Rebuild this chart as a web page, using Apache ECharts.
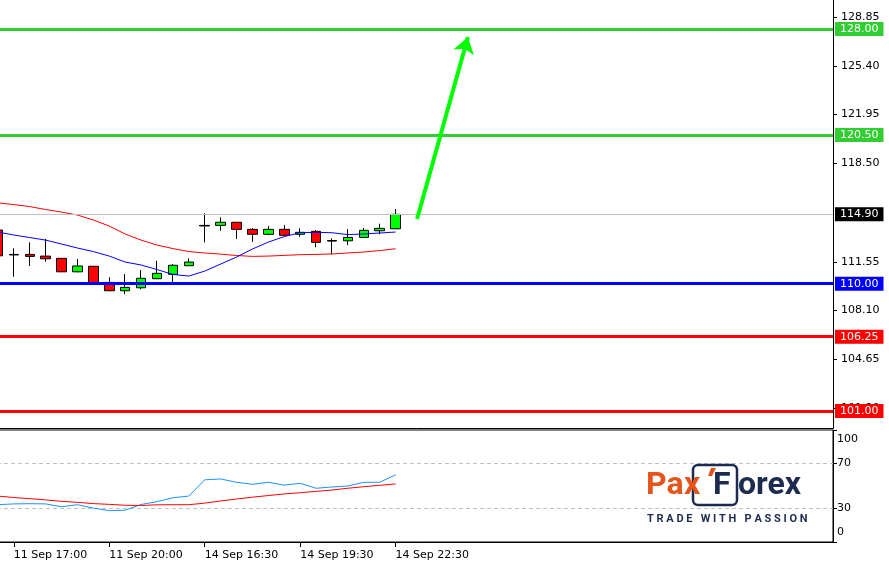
<!DOCTYPE html>
<html><head><meta charset="utf-8">
<script src="https://cdn.jsdelivr.net/npm/echarts@6/dist/echarts.min.js"></script>
<style>html,body{margin:0;padding:0;background:#fff}#c{width:889px;height:564px}</style>
</head><body><div id="c"></div>
<script>
// ---- data ----
const categories = ['11 Sep 16:30','11 Sep 17:00','11 Sep 17:30','11 Sep 18:00','11 Sep 18:30','11 Sep 19:00','11 Sep 19:30','11 Sep 20:00','11 Sep 20:30','11 Sep 21:00','11 Sep 21:30','11 Sep 22:00','11 Sep 22:30',
  '14 Sep 16:30','14 Sep 17:00','14 Sep 17:30','14 Sep 18:00','14 Sep 18:30','14 Sep 19:00','14 Sep 19:30','14 Sep 20:00','14 Sep 20:30','14 Sep 21:00','14 Sep 21:30','14 Sep 22:00','14 Sep 22:30'];
const tickLabels = ['11 Sep 17:00','11 Sep 20:00','14 Sep 16:30','14 Sep 19:30','14 Sep 22:30'];
const opens  = [113.79,112.07,112.07,111.95,111.79,110.84,111.23,110.09,109.50,109.71,110.35,110.66,111.27,114.12,114.12,114.34,113.84,113.49,113.84,113.49,113.70,113.05,113.03,113.27,113.74,113.88];
const closes = [111.97,112.03,111.93,111.76,110.84,111.25,110.07,109.50,109.74,110.38,110.73,111.30,111.53,114.08,114.34,113.84,113.49,113.84,113.42,113.63,112.92,113.01,113.27,113.77,113.91,114.90];
const lows   = [111.90,110.49,111.25,111.55,110.82,110.80,110.05,109.48,109.27,109.60,110.33,110.02,111.25,112.92,113.74,113.16,112.96,113.42,113.40,113.32,112.57,112.07,112.73,113.25,113.49,113.86];
const highs  = [113.85,112.50,112.92,113.16,111.80,111.74,111.25,110.45,110.68,110.96,111.62,111.39,111.79,114.97,114.69,114.36,113.93,114.07,114.14,113.91,113.79,113.20,113.86,113.93,114.24,115.28];
const maSlow = [115.71,115.59,115.45,115.24,115.06,114.85,114.50,114.07,113.51,113.08,112.73,112.48,112.27,112.17,112.09,111.99,111.93,111.95,112.00,112.05,112.07,112.10,112.17,112.24,112.34,112.47];
const maFast = [113.65,113.44,113.26,113.08,112.80,112.52,112.27,111.95,111.53,111.32,111.00,110.65,110.54,110.89,111.39,111.88,112.45,112.94,113.33,113.60,113.63,113.60,113.47,113.51,113.58,113.65];
const oscFast = [33.3,34.0,34.2,34.0,31.5,33.3,30.3,28.0,28.4,33.5,36.0,39.5,41.0,55.5,56.3,53.3,51.5,53.3,50.8,52.4,48.0,49.1,50.0,53.3,53.3,60.0];
const oscSlow = [41.0,39.7,38.7,37.6,36.3,35.4,34.3,33.6,32.8,32.6,33.2,33.3,33.3,34.7,36.6,38.4,40.0,41.5,42.9,44.0,45.2,46.4,48.0,49.4,50.6,51.8];
const levelValues = [128.00, 120.50, 114.90, 110.00, 106.25, 101.00];
const priceTicks = [101.20, 104.65, 108.10, 111.55, 118.50, 121.95, 125.40, 128.85];
const oscTicks = [0, 30, 70, 100];
const oscLevels = [70, 30];
const arrowFrom = [26.35, 114.57];
const arrowTo = [29.55, 127.43];

// ---- styles ----
const FONT = 'DejaVu Sans';
const levelColors = ['#32CD32', '#32CD32', '#C0C0C0', '#0000FF', '#FF0000', '#FF0000'];
const levelBoxColors = ['#32CD32', '#32CD32', '#000000', '#0000FF', '#FF0000', '#FF0000'];
const levelWidths = [3, 3, 1, 3, 3, 3];

const N = 53;
const cats = categories.concat(Array.from({length: N - categories.length}, (_, k) => 'slot' + (k + categories.length)));
const candles = opens.map((o, i) => [o, closes[i], lows[i], highs[i]]);
const showLbl = (idx, val) => tickLabels.indexOf(val) >= 0;

const chart = echarts.init(document.getElementById('c'), null, {renderer: 'canvas'});
chart.setOption({
  animation: false,
  backgroundColor: '#fff',
  textStyle: {fontFamily: FONT},
  grid: [
    {left: -10, right: 56, top: 0, height: 428, outerBoundsMode: 'none', containLabel: false},
    {left: -10, right: 56, top: 430, height: 112, outerBoundsMode: 'none', containLabel: false,
     show: true, borderColor: '#000', borderWidth: 1, backgroundColor: 'transparent'}
  ],
  xAxis: [
    {type: 'category', gridIndex: 0, data: cats, boundaryGap: true,
     axisLine: {show: true, onZero: false, lineStyle: {color: '#000', width: 1}}, axisTick: {show: false}, axisLabel: {show: false}, splitLine: {show: false}},
    {type: 'value', gridIndex: 0, min: -0.5, max: N - 0.5, show: false, axisLine: {onZero: false}},
    {type: 'category', gridIndex: 1, data: cats, boundaryGap: true,
     axisLine: {show: true, onZero: false, lineStyle: {color: '#000', width: 1}},
     axisTick: {show: true, interval: showLbl, alignWithLabel: true, length: 5, lineStyle: {color: '#000'}},
     axisLabel: {show: true, interval: showLbl, align: 'left', margin: 8, color: '#000', fontFamily: FONT, fontSize: 11},
     splitLine: {show: false}}
  ],
  yAxis: [
    {type: 'value', gridIndex: 0, position: 'right', min: 99.80, max: 130.05,
     axisLine: {show: true, onZero: false, lineStyle: {color: '#000', width: 1}},
     axisTick: {show: true, length: 4, customValues: priceTicks, lineStyle: {color: '#000'}},
     axisLabel: {show: true, customValues: priceTicks, formatter: v => Number(v).toFixed(2), margin: 8, color: '#000', fontFamily: FONT, fontSize: 11},
     splitLine: {show: false}},
    {type: 'value', gridIndex: 1, position: 'right', min: 0, max: 100,
     axisLine: {show: true, onZero: false, lineStyle: {color: '#000', width: 1}},
     axisTick: {show: true, length: 4, customValues: oscTicks, lineStyle: {color: '#000'}},
     axisLabel: {show: true, customValues: oscTicks, lineHeight: 19,
       formatter: v => (v >= 100 ? '\n100' : (v <= 0 ? '0\n' : String(Math.round(v)))),
       margin: 4, color: '#000', fontFamily: FONT, fontSize: 11},
     splitLine: {show: false}}
  ],
  series: [
    {type: 'candlestick', xAxisIndex: 0, yAxisIndex: 0, data: candles, barWidth: 10,
     itemStyle: {color: '#00FF00', color0: '#FF0000', borderColor: '#000', borderColor0: '#000', borderColorDoji: '#000', borderWidth: 1},
     markLine: {silent: true, symbol: 'none', z: 5,
       data: levelValues.map((v, i) => ({
         yAxis: v,
         lineStyle: {color: levelColors[i], width: levelWidths[i], type: 'solid'},
         label: {show: true, position: 'end', distance: 2, formatter: p => Number(p.value).toFixed(2),
           color: '#fff', backgroundColor: levelBoxColors[i], padding: [1, 5, 1, 5], lineHeight: 12,
           fontFamily: FONT, fontSize: 11}
       }))}},
    {type: 'line', xAxisIndex: 0, yAxisIndex: 0, data: maSlow, symbol: 'none', lineStyle: {color: '#FF0000', width: 1}, z: 3},
    {type: 'line', xAxisIndex: 0, yAxisIndex: 0, data: maFast, symbol: 'none', lineStyle: {color: '#0000FF', width: 1}, z: 3},
    {type: 'line', xAxisIndex: 1, yAxisIndex: 0, data: [arrowFrom, arrowTo], symbol: 'none', lineStyle: {width: 0, opacity: 0},
     markLine: {silent: true, symbol: ['none', 'arrow'], symbolSize: 16, z: 6,
       lineStyle: {color: '#00FF00', width: 4, type: 'solid'}, itemStyle: {color: '#00FF00'}, label: {show: false},
       data: [[{coord: arrowFrom}, {coord: arrowTo}]]}},
    {type: 'line', xAxisIndex: 2, yAxisIndex: 1, data: oscFast, symbol: 'none', lineStyle: {color: '#1E90FF', width: 1}, z: 3,
     markLine: {silent: true, symbol: 'none', z: 1, label: {show: false},
       lineStyle: {color: '#C0C0C0', width: 1, type: [4, 3]},
       data: oscLevels.map(v => ({yAxis: v}))}},
    {type: 'line', xAxisIndex: 2, yAxisIndex: 1, data: oscSlow, symbol: 'none', lineStyle: {color: '#FF0000', width: 1}, z: 3}
  ],
  graphic: [
    {type: 'rect', x: 693, y: 465, shape: {width: 44, height: 40, r: 5}, style: {fill: 'none', stroke: '#1C2B4F', lineWidth: 2.5}, z: 10},
    {type: 'text', x: 646, y: 486, z: 11, style: {text: 'Pa', fill: '#E5541B', fontSize: 32, fontWeight: 'bold', fontFamily: 'Roboto', verticalAlign: 'middle'}},
    {type: 'text', x: 684, y: 486, z: 11, style: {text: 'x', fill: '#E5541B', fontSize: 32, fontWeight: 'bold', fontFamily: 'Roboto', verticalAlign: 'middle'}},
    {type: 'polygon', z: 11, shape: {points: [[711, 468], [716, 468], [712, 476], [708, 476]]}, style: {fill: '#E5541B'}},
    {type: 'text', x: 713, y: 486, z: 11, style: {text: 'F', fill: '#1C2B4F', fontSize: 32, fontWeight: 'bold', fontFamily: 'Roboto', verticalAlign: 'middle'}},
    {type: 'text', x: 738, y: 486, z: 11, style: {text: 'orex', fill: '#1C2B4F', fontSize: 32, fontWeight: 'bold', fontFamily: 'Roboto', verticalAlign: 'middle'}},
    {type: 'text', x: 647, y: 519, z: 11, style: {text: 'T R A D E   W I T H   P A S S I O N', fill: '#1C2B4F', fontSize: 11, fontWeight: 'bold', fontFamily: 'Roboto', verticalAlign: 'middle'}}
  ]
});
</script></body></html>
